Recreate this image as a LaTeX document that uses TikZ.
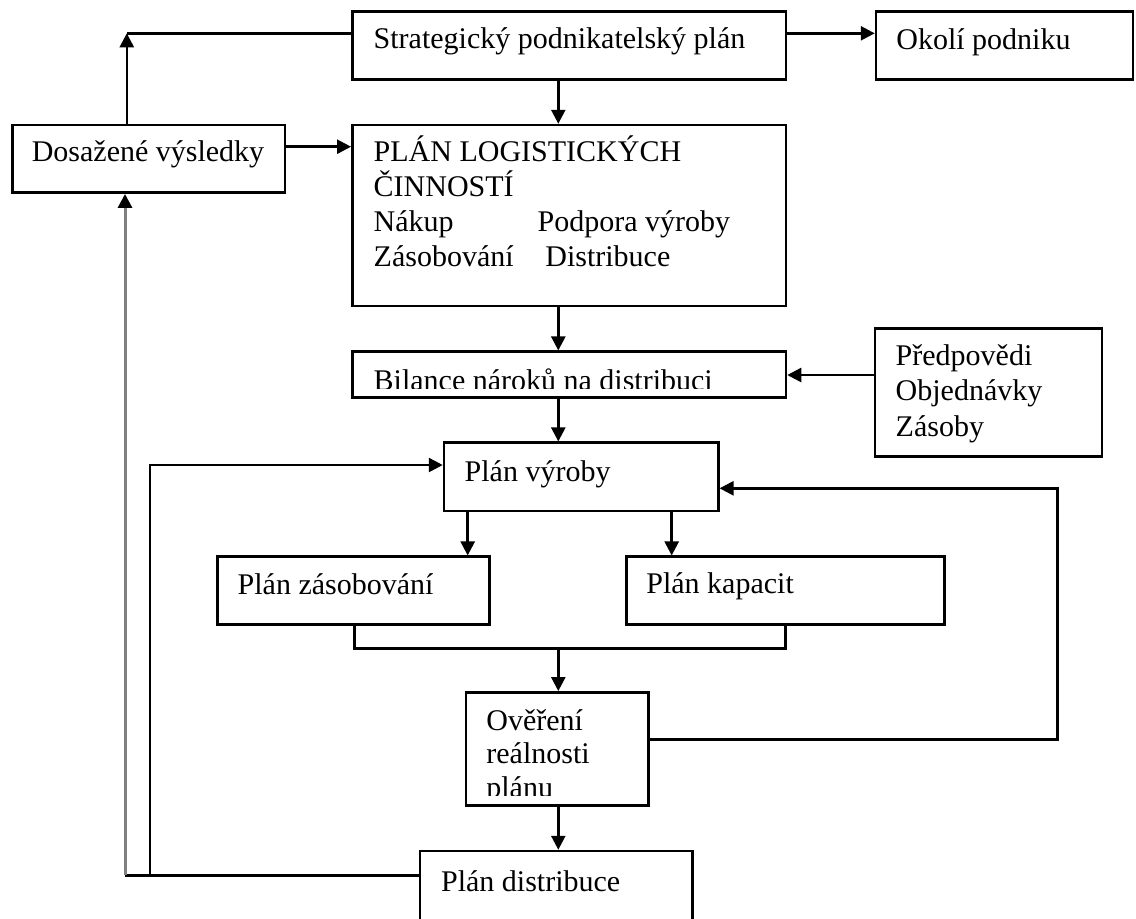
\documentclass[tikz,border=0pt]{standalone}
\usepackage{fontspec}
\setmainfont{Liberation Serif}
\usetikzlibrary{arrows.meta,fit}
\definecolor{lgray}{RGB}{128,128,128}
\begin{document}
\begin{tikzpicture}[x=0.5pt,y=-0.5pt,
  box/.style={draw,line width=1.25pt,inner sep=0pt},
  txt/.style={anchor=base west,inner sep=0pt,font=\fontsize{15pt}{17.5pt}\selectfont},
  arr/.style={-{Triangle[length=7pt,width=7pt,color=black]}},
  con/.style={line width=1.25pt},
  gline/.style={line width=1.5pt,draw=lgray}]
\useasboundingbox (0,0) rectangle (1136,918);
\clip (0,0) rectangle (1136,918);

% boxes
\node[box,fit={(352.3,11.3)(786,79.3)}] (strat) {};
\node[box,fit={(876,11.3)(1133,79.3)}] (okoli) {};
\node[box,fit={(12.5,125)(285,192.7)}] (dos) {};
\node[box,fit={(352.3,125)(786,306)}] (plan) {};
\node[box,fit={(352.3,351.7)(786,397.7)}] (bil) {};
\node[box,fit={(875,328.3)(1102,456.7)}] (pred) {};
\node[box,fit={(444,442.7)(718.3,511)}] (vyr) {};
\node[box,fit={(217.3,556.7)(489.7,624.3)}] (zas) {};
\node[box,fit={(626.3,556.7)(944.7,624.3)}] (kap) {};
\node[box,fit={(466,692.3)(648.7,805.7)}] (over) {};
\node[box,fit={(420,851)(692.3,940)}] (dist) {};

% texts
\node[txt] (tstrat) at (373.3,48.3) {Strategický podnikatelský plán};
\node[txt] (tokoli) at (896,49) {Okolí podniku};
\node[txt] (tdos) at (31.4,161.7) {Dosažené výsledky};
\node[txt] (tplan1) at (373.3,161.7) {PLÁN LOGISTICKÝCH};
\node[txt] (tplan2) at (373.3,196.7) {ČINNOSTÍ};
\node[txt] (tplan3) at (373.3,231.7) {Nákup};
\node[txt] (tplan4) at (537.3,231.7) {Podpora výroby};
\node[txt] (tplan5) at (373.3,266.7) {Zásobování};
\node[txt] (tplan6) at (545,266.7) {Distribuce};
\begin{scope}
  \clip (352.3,351.7) rectangle (786,388);
  \node[txt] (tbil) at (373.3,390) {Bilance nároků na distribuci};
\end{scope}
\node[txt] (tpred1) at (895.3,365) {Předpovědi};
\node[txt] (tpred2) at (895.3,400.5) {Objednávky};
\node[txt] (tpred3) at (895.3,436) {Zásoby};
\node[txt] (tvyr) at (464.3,481.7) {Plán výroby};
\node[txt] (tzas) at (237.3,594) {Plán zásobování};
\node[txt] (tkap) at (646,593.3) {Plán kapacit};
\node[txt] (tover1) at (486,730) {Ověření};
\node[txt] (tover2) at (486,763.3) {reálnosti};
\begin{scope}
  \clip (466,692.3) rectangle (648.7,795);
  \node[txt] (tover3) at (486,797) {plánu};
\end{scope}
\node[txt] (tdist) at (440.7,891.7) {Plán distribuce};

% helper coordinates
\coordinate (xL) at (126.8,0);
\coordinate (xG) at (125,0);
\coordinate (xB) at (150,0);
\coordinate (xM) at (558.3,0);
\coordinate (xR) at (1057.7,0);
\coordinate (xZ) at (354.3,0);
\coordinate (xK) at (785.7,0);
\coordinate (xA1) at (467.7,0);
\coordinate (xA2) at (671.7,0);
\coordinate (yTop) at (0,33.3);
\coordinate (yDos) at (0,146.7);
\coordinate (yPred) at (0,375);
\coordinate (yVL) at (0,465);
\coordinate (yVR) at (0,488.3);
\coordinate (yJ) at (0,648.3);
\coordinate (yOv) at (0,739.3);
\coordinate (yDist) at (0,875.3);

% connectors
\draw[con,arr] (xL |- dos.north) -- (xL |- yTop);
\draw[con] (xL |- yTop) -- (strat.west |- yTop);
\draw[con,arr] (strat.east |- yTop) -- (okoli.west |- yTop);
\draw[con,arr] (xM |- strat.south) -- (xM |- plan.north);
\draw[con,arr] (dos.east |- yDos) -- (plan.west |- yDos);
\draw[con,arr] (xM |- plan.south) -- (xM |- bil.north);
\draw[con,arr] (pred.west |- yPred) -- (bil.east |- yPred);
\draw[con,arr] (xM |- bil.south) -- (xM |- vyr.north);
\draw[con,arr] (xA1 |- vyr.south) -- (xA1 |- zas.north);
\draw[con,arr] (xA2 |- vyr.south) -- (xA2 |- kap.north);
\draw[con] (xZ |- zas.south) |- (xK |- yJ) -- (xK |- kap.south);
\draw[con,arr] (xM |- yJ) -- (xM |- over.north);
\draw[con,arr] (xM |- over.south) -- (xM |- dist.north);
\draw[con,arr] (over.east |- yOv) -| (xR |- yVR) -- (vyr.east |- yVR);
\draw[con] (dist.west |- yDist) -- (xG |- yDist);
\draw[gline,arr] (xG |- yDist) -- (xG |- dos.south);
\draw[con,arr] (xB |- yDist) |- (vyr.west |- yVL);
\end{tikzpicture}
\end{document}
